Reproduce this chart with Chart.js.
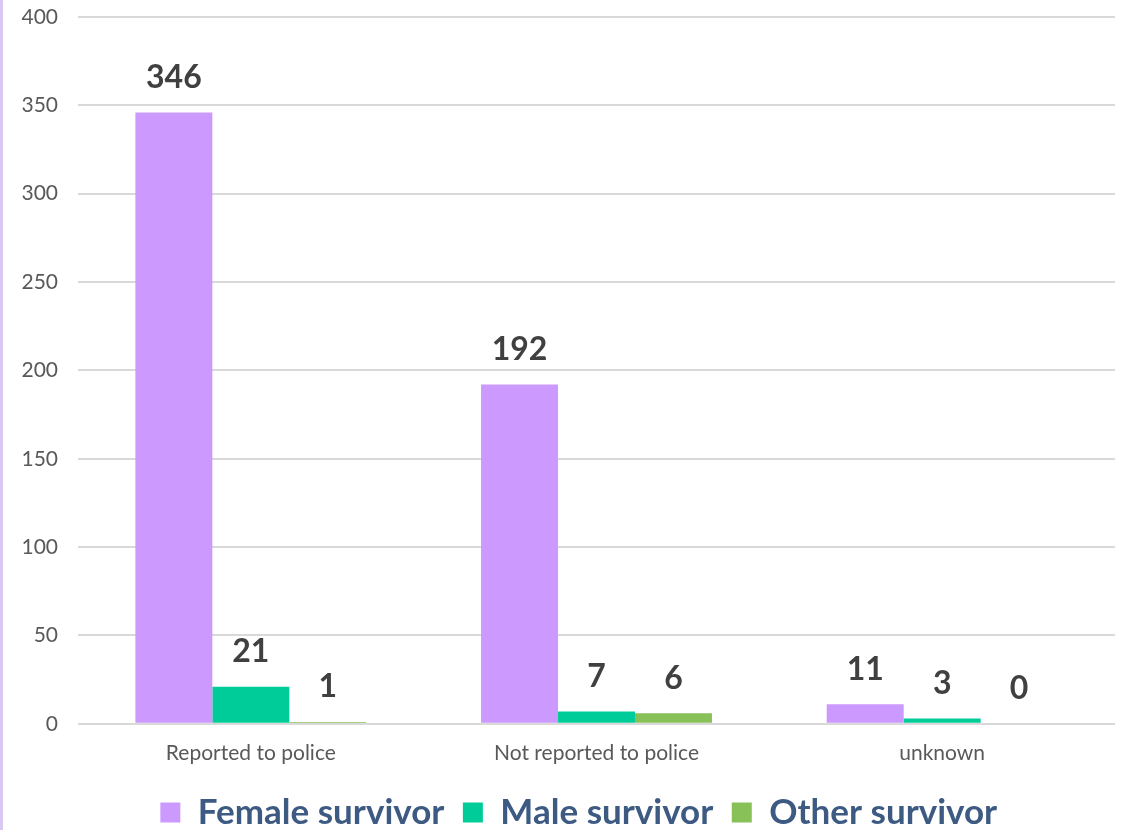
<!DOCTYPE html>
<html>
<head>
<meta charset="utf-8">
<script src="https://cdn.jsdelivr.net/npm/chart.js@4"></script>
<style>
    html, body { margin: 0; padding: 0; background: #fff; }
    .wrap {
        position: relative;
        width: 1130px;
        height: 830px;
        box-sizing: border-box;
        border-left: 3px solid #d9c9f2;
    }
</style>
</head>
<body>
<div class="wrap">
    <canvas id="survivorChart" width="1127" height="830"></canvas>
</div>
<script>
const categories = ['Reported to police', 'Not reported to police', 'unknown'];
const femaleSurvivor = [346, 192, 11];
const maleSurvivor = [21, 7, 3];
const otherSurvivor = [1, 6, 0];
const yTicks = [0, 50, 100, 150, 200, 250, 300, 350, 400];

const fontName = 'Lato, "DejaVu Sans", sans-serif';

// draws the numbers on top of each bar
const valueLabels = {
    id: 'valueLabels',
    afterDatasetsDraw(chart) {
        const ctx = chart.ctx;
        ctx.save();
        ctx.font = 'bold 32px ' + fontName;
        ctx.fillStyle = '#404040';
        ctx.textAlign = 'center';
        ctx.textBaseline = 'middle';
        chart.data.datasets.forEach((ds, i) => {
            chart.getDatasetMeta(i).data.forEach((bar, j) => {
                ctx.fillText(ds.data[j], bar.x, bar.y - 35);
            });
        });
        ctx.restore();
    }
};

// legend sits a little right of centre in the original
const legendShift = {
    id: 'legendShift',
    afterLayout(chart) {
        chart.legend.left += 24;
        chart.legend.right += 24;
    }
};

const ctx = document.getElementById('survivorChart').getContext('2d');

new Chart(ctx, {
    type: 'bar',
    data: {
        labels: categories,
        datasets: [{
            label: 'Female survivor',
            data: femaleSurvivor,
            backgroundColor: '#cc99ff'
        }, {
            label: 'Male survivor',
            data: maleSurvivor,
            backgroundColor: '#00cc99'
        }, {
            label: 'Other survivor',
            data: otherSurvivor,
            backgroundColor: '#88c157'
        }]
    },
    options: {
        responsive: false,
        animation: false,
        layout: {
            padding: { top: 17, right: 15, left: 0, bottom: -10 }
        },
        datasets: {
            bar: {
                barPercentage: 1,
                categoryPercentage: 0.668
            }
        },
        plugins: {
            tooltip: { enabled: false },
            legend: {
                position: 'bottom',
                labels: {
                    boxWidth: 20,
                    boxHeight: 20,
                    padding: 10,
                    color: '#3d5a82',
                    font: { family: fontName, size: 35, weight: 'bold' },
                    generateLabels: chart => {
                        const items = Chart.defaults.plugins.legend.labels.generateLabels(chart);
                        items.forEach(it => { it.text = it.text + ' '; });
                        return items;
                    }
                }
            }
        },
        scales: {
            x: {
                grid: { display: false },
                border: { display: false },
                afterFit: axis => { axis.height += 10; },
                ticks: {
                    color: '#595959',
                    padding: 9,
                    font: { family: fontName, size: 21 }
                }
            },
            y: {
                min: 0,
                max: 400,
                afterBuildTicks: axis => {
                    axis.ticks = yTicks.map(v => ({ value: v }));
                },
                afterFit: axis => {
                    axis.width = 75;
                    axis.paddingTop = 0;
                    axis.paddingBottom = 0;
                },
                border: { display: false },
                grid: { color: '#d9d9d9', lineWidth: 2, drawTicks: false },
                ticks: {
                    color: '#595959',
                    padding: 20,
                    font: { family: fontName, size: 21 }
                }
            }
        }
    },
    plugins: [valueLabels, legendShift]
});
</script>
</body>
</html>
